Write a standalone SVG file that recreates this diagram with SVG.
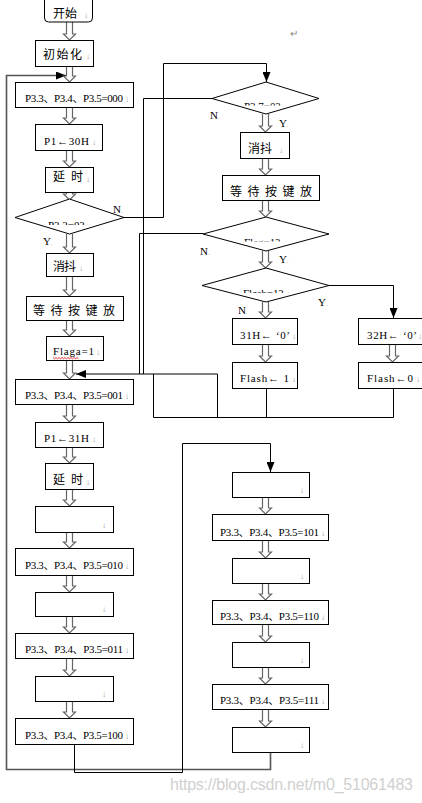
<svg xmlns="http://www.w3.org/2000/svg" width="422" height="803" viewBox="0 0 422 803">
<style>
.b{fill:#fff;stroke:#000;stroke-width:1}
.t{font-family:"Liberation Serif","Noto Sans CJK SC",serif;font-size:11px;fill:#000}
.c{font-family:"Noto Sans CJK SC","Liberation Serif",sans-serif;font-size:12px;fill:#000}
.m{font-family:"Liberation Sans",sans-serif;font-size:8px;fill:#999}
.ha{fill:#fff;stroke:#666;stroke-width:1.2}
.ln{fill:none;stroke:#000;stroke-width:1}
.lg{fill:none;stroke:#555;stroke-width:1.6}
</style>
<defs>
<marker id="ah" markerUnits="userSpaceOnUse" markerWidth="10" markerHeight="8" refX="10" refY="4" orient="auto"><path d="M0,0L10,4L0,8z" fill="#000"/></marker>
<clipPath id="c1"><rect x="0" y="0" width="422" height="225"/></clipPath>
<clipPath id="c2"><rect x="0" y="0" width="422" height="105.5"/></clipPath>
<clipPath id="c3"><rect x="0" y="0" width="422" height="241.5"/></clipPath>
<clipPath id="c4"><rect x="0" y="0" width="422" height="293"/></clipPath>
</defs>
<rect width="422" height="803" fill="#fff"/>

<g id="connectors">
<path class="lg" d="M270.5 752V769.5H6.5V75.5H66" marker-end="url(#ah)"/>
<path class="ln" d="M124 217.5H163.5V63.5H266.5V82" marker-end="url(#ah)"/>
<path class="ln" d="M212 98.5H143.5V374"/>
<path class="ln" d="M203 233.5H139.5V374"/>
<path class="ln" d="M266.5 388V417.5M153.5 374V417.5H393.5V388M217.5 417.5V374H76" marker-end="url(#ah)"/>
<path class="ln" d="M329 285.5H393.5V318" marker-end="url(#ah)"/>
<path class="ln" d="M74.5 744V772.5H182.5V443.5H270.5V472" marker-end="url(#ah)"/>
<g id="hollow-arrows">
<path class="ha" d="M66.5 22V34H63.5L69.5 40L75.5 34H72.5V22"/>
<path class="ha" d="M66.5 66V76H63.5L69.5 82L75.5 76H72.5V66"/>
<path class="ha" d="M66.5 107V118H63.5L69.5 124L75.5 118H72.5V107"/>
<path class="ha" d="M66.5 150V161H63.5L69.5 167L75.5 161H72.5V150"/>
<path class="ha" d="M66.5 192V194H63.5L69.5 200L75.5 194H72.5V192"/>
<path class="ha" d="M66.5 234V247H63.5L69.5 253L75.5 247H72.5V234"/>
<path class="ha" d="M66.5 276V290H63.5L69.5 296L75.5 290H72.5V276"/>
<path class="ha" d="M66.5 320V330H63.5L69.5 336L75.5 330H72.5V320"/>
<path class="ha" d="M66.5 360V373H63.5L69.5 379L75.5 373H72.5V360"/>
<path class="ha" d="M66.5 404V416H63.5L69.5 422L75.5 416H72.5V404"/>
<path class="ha" d="M66.5 447V457H63.5L69.5 463L75.5 457H72.5V447"/>
<path class="ha" d="M66.5 489V500H63.5L69.5 506L75.5 500H72.5V489"/>
<path class="ha" d="M66.5 532V542H63.5L69.5 548L75.5 542H72.5V532"/>
<path class="ha" d="M66.5 575V586H63.5L69.5 592L75.5 586H72.5V575"/>
<path class="ha" d="M66.5 616V627H63.5L69.5 633L75.5 627H72.5V616"/>
<path class="ha" d="M66.5 658V670H63.5L69.5 676L75.5 670H72.5V658"/>
<path class="ha" d="M66.5 701V712H63.5L69.5 718L75.5 712H72.5V701"/>
<path class="ha" d="M262.5 114V126H259.5L265.5 132L271.5 126H268.5V114"/>
<path class="ha" d="M262.5 158V169H259.5L265.5 175L271.5 169H268.5V158"/>
<path class="ha" d="M262.5 200V211H259.5L265.5 217L271.5 211H268.5V200"/>
<path class="ha" d="M262.5 251V262H259.5L265.5 268L271.5 262H268.5V251"/>
<path class="ha" d="M262.5 302V312H259.5L265.5 318L271.5 312H268.5V302"/>
<path class="ha" d="M262.5 344V356H259.5L265.5 362L271.5 356H268.5V344"/>
<path class="ha" d="M389.5 344V356H386.5L392.5 362L398.5 356H395.5V344"/>
<path class="ha" d="M262.5 497V508H259.5L265.5 514L271.5 508H268.5V497"/>
<path class="ha" d="M262.5 540V552H259.5L265.5 558L271.5 552H268.5V540"/>
<path class="ha" d="M262.5 583V594H259.5L265.5 600L271.5 594H268.5V583"/>
<path class="ha" d="M262.5 624V636H259.5L265.5 642L271.5 636H268.5V624"/>
<path class="ha" d="M262.5 667V678H259.5L265.5 684L271.5 678H268.5V667"/>
<path class="ha" d="M262.5 709V721H259.5L265.5 727L271.5 721H268.5V709"/>
</g>
</g>

<g id="start"><rect class="b" x="44.5" y="-6" width="48" height="28" rx="4"/><text class="c" x="53" y="18" font-size="11">开始</text><text class="m" x="84" y="18">↓</text></g>
<g id="init"><rect class="b" x="35.5" y="40.5" width="58" height="26"/><text class="c" x="43" y="59" textLength="39" font-size="13">初始化</text><text class="m" x="86" y="59">↓</text></g>
<g id="p000"><rect class="b" x="15.5" y="82.5" width="118" height="25"/><text class="t" x="25" y="102" textLength="98">P3.3、P3.4、P3.5=000</text><text class="m" x="125" y="102">↓</text></g>
<g id="p1-30h"><rect class="b" x="35.5" y="124.5" width="67" height="26"/><text class="t" x="44" y="145" textLength="45">P1←30H</text><text class="m" x="92" y="145">↓</text></g>
<g id="delay1"><rect class="b" x="45.5" y="167.5" width="48" height="25"/><text class="c" x="53" y="181" textLength="30" font-size="13">延时</text><text class="m" x="86" y="182">↓</text></g>
<g id="d-p32"><polygon class="b" points="15,217.5 69.5,199 124,217.5 69.5,234"/><text class="t" x="48" y="228.5" clip-path="url(#c1)">P3.2=0?<tspan class="m" dx="3">↓</tspan></text><text class="t" x="113" y="213" font-size="10">N<tspan fill="#999" font-size="6">.</tspan></text><text class="t" x="43" y="245" font-size="10">Y<tspan fill="#999" font-size="6">.</tspan></text></g>
<g id="debounce1"><rect class="b" x="46.5" y="253.5" width="47" height="23"/><text class="c" x="53" y="271" textLength="23">消抖</text><text class="m" x="79" y="271">↓</text></g>
<g id="wait1"><rect class="b" x="26.5" y="296.5" width="97" height="24"/><text class="c" x="33" y="315" textLength="82" font-size="13">等待按键放</text></g>
<g id="flaga"><rect class="b" x="46.5" y="336.5" width="57" height="24"/><text class="t" x="53" y="355" textLength="41">Flaga=1</text><text class="m" x="96" y="355">↓</text><path d="M53 357.5l1.5 1.3l1.5-1.3l1.5 1.3l1.5-1.3l1.5 1.3l1.5-1.3l1.5 1.3l1.5-1.3l1.5 1.3l1.5-1.3l1.5 1.3l1.5-1.3l1.5 1.3l1.5-1.3l1.5 1.3l1.5-1.3l1.5 1.3" fill="none" stroke="#d00" stroke-width="0.8"/></g>
<g id="p001"><rect class="b" x="15.5" y="379.5" width="118" height="25"/><text class="t" x="25" y="399" textLength="98">P3.3、P3.4、P3.5=001</text><text class="m" x="125" y="399">↓</text></g>
<g id="p1-31h"><rect class="b" x="35.5" y="422.5" width="68" height="25"/><text class="t" x="44" y="442" textLength="45">P1←31H</text><text class="m" x="92" y="442">↓</text></g>
<g id="delay2"><rect class="b" x="45.5" y="463.5" width="48" height="26"/><text class="c" x="53" y="484" textLength="30" font-size="13">延时</text><text class="m" x="86" y="485">↓</text></g>
<g id="blank1"><rect class="b" x="35.5" y="506.5" width="78" height="26"/><text class="m" x="102" y="528">↓</text></g>
<g id="p010"><rect class="b" x="15.5" y="548.5" width="118" height="27"/><text class="t" x="25" y="569" textLength="98">P3.3、P3.4、P3.5=010</text><text class="m" x="125" y="569">↓</text></g>
<g id="blank2"><rect class="b" x="35.5" y="592.5" width="78" height="24"/><text class="m" x="102" y="612">↓</text></g>
<g id="p011"><rect class="b" x="15.5" y="633.5" width="118" height="25"/><text class="t" x="25" y="653" textLength="98">P3.3、P3.4、P3.5=011</text><text class="m" x="125" y="653">↓</text></g>
<g id="blank3"><rect class="b" x="35.5" y="676.5" width="78" height="25"/><text class="m" x="102" y="697">↓</text></g>
<g id="p100"><rect class="b" x="15.5" y="718.5" width="118" height="26"/><text class="t" x="25" y="739" textLength="98">P3.3、P3.4、P3.5=100</text><text class="m" x="125" y="739">↓</text></g>

<g id="d-p37"><polygon class="b" points="212,98.5 266,82 319,98.5 266,114"/><text class="t" x="244" y="110" clip-path="url(#c2)">P3.7=0?<tspan class="m" dx="3">↓</tspan></text><text class="t" x="210" y="119" font-size="10">N<tspan fill="#999" font-size="6">.</tspan></text><text class="t" x="279" y="127" font-size="10">Y<tspan fill="#999" font-size="6">.</tspan></text></g>
<g id="debounce2"><rect class="b" x="240.5" y="132.5" width="49" height="26"/><text class="c" x="248" y="153" textLength="24">消抖</text><text class="m" x="279" y="153">↓</text></g>
<g id="wait2"><rect class="b" x="222.5" y="175.5" width="97" height="25"/><text class="c" x="230" y="196" textLength="82" font-size="13">等待按键放</text></g>
<g id="d-flag"><polygon class="b" points="203,234 266,217 329,234 266,251"/><text class="t" x="244" y="245.5" clip-path="url(#c3)">Flag=1?<tspan class="m" dx="3">↓</tspan></text><text class="t" x="200" y="255" font-size="10">N<tspan fill="#999" font-size="6">.</tspan></text><text class="t" x="279" y="263" font-size="10">Y<tspan fill="#999" font-size="6">.</tspan></text></g>
<g id="d-flash"><polygon class="b" points="202,285.5 266,268 329,285.5 266,302"/><text class="t" x="243" y="297" clip-path="url(#c4)">Flash=1?<tspan class="m" dx="3">↓</tspan></text><text class="t" x="318" y="306" font-size="10">Y<tspan fill="#999" font-size="6">.</tspan></text><text class="t" x="238" y="314" font-size="10">N<tspan fill="#999" font-size="6">.</tspan></text></g>
<g id="h31"><rect class="b" x="232.5" y="318.5" width="65" height="26"/><text class="t" x="240" y="339" textLength="50">31H← ‘0’</text><text class="m" x="292" y="339">↓</text></g>
<g id="h32"><rect class="b" x="358.5" y="318.5" width="64" height="26"/><text class="t" x="367" y="339" textLength="50">32H← ‘0’</text><text class="m" x="418" y="339">↓</text></g>
<g id="flash1"><rect class="b" x="232.5" y="362.5" width="65" height="26"/><text class="t" x="240" y="382" textLength="49">Flash← 1</text><text class="m" x="292" y="382">↓</text></g>
<g id="flash0"><rect class="b" x="358.5" y="362.5" width="64" height="26"/><text class="t" x="367" y="382" textLength="46">Flash←0</text><text class="m" x="416" y="382">↓</text></g>

<g id="blank4"><rect class="b" x="232.5" y="472.5" width="77" height="25"/><text class="m" x="300" y="493">↓</text></g>
<g id="p101"><rect class="b" x="212.5" y="514.5" width="116" height="26"/><text class="t" x="220" y="536" textLength="99">P3.3、P3.4、P3.5=101</text><text class="m" x="321" y="536">↓</text></g>
<g id="blank5"><rect class="b" x="232.5" y="558.5" width="77" height="25"/><text class="m" x="300" y="579">↓</text></g>
<g id="p110"><rect class="b" x="212.5" y="600.5" width="116" height="24"/><text class="t" x="220" y="620" textLength="99">P3.3、P3.4、P3.5=110</text><text class="m" x="321" y="620">↓</text></g>
<g id="blank6"><rect class="b" x="232.5" y="642.5" width="77" height="25"/><text class="m" x="300" y="663">↓</text></g>
<g id="p111"><rect class="b" x="212.5" y="684.5" width="116" height="25"/><text class="t" x="220" y="704" textLength="99">P3.3、P3.4、P3.5=111</text><text class="m" x="321" y="704">↓</text></g>
<g id="blank7"><rect class="b" x="232.5" y="727.5" width="77" height="25"/><text class="m" x="300" y="748" fill="#666">↓</text></g>

<text x="290" y="37" font-family="Liberation Sans,sans-serif" font-size="10" fill="#888">↵</text>
<text x="170" y="790" font-family="Liberation Sans,sans-serif" font-size="16" fill="#d0d0d0" textLength="243">https://blog.csdn.net/m0_51061483</text>
</svg>
